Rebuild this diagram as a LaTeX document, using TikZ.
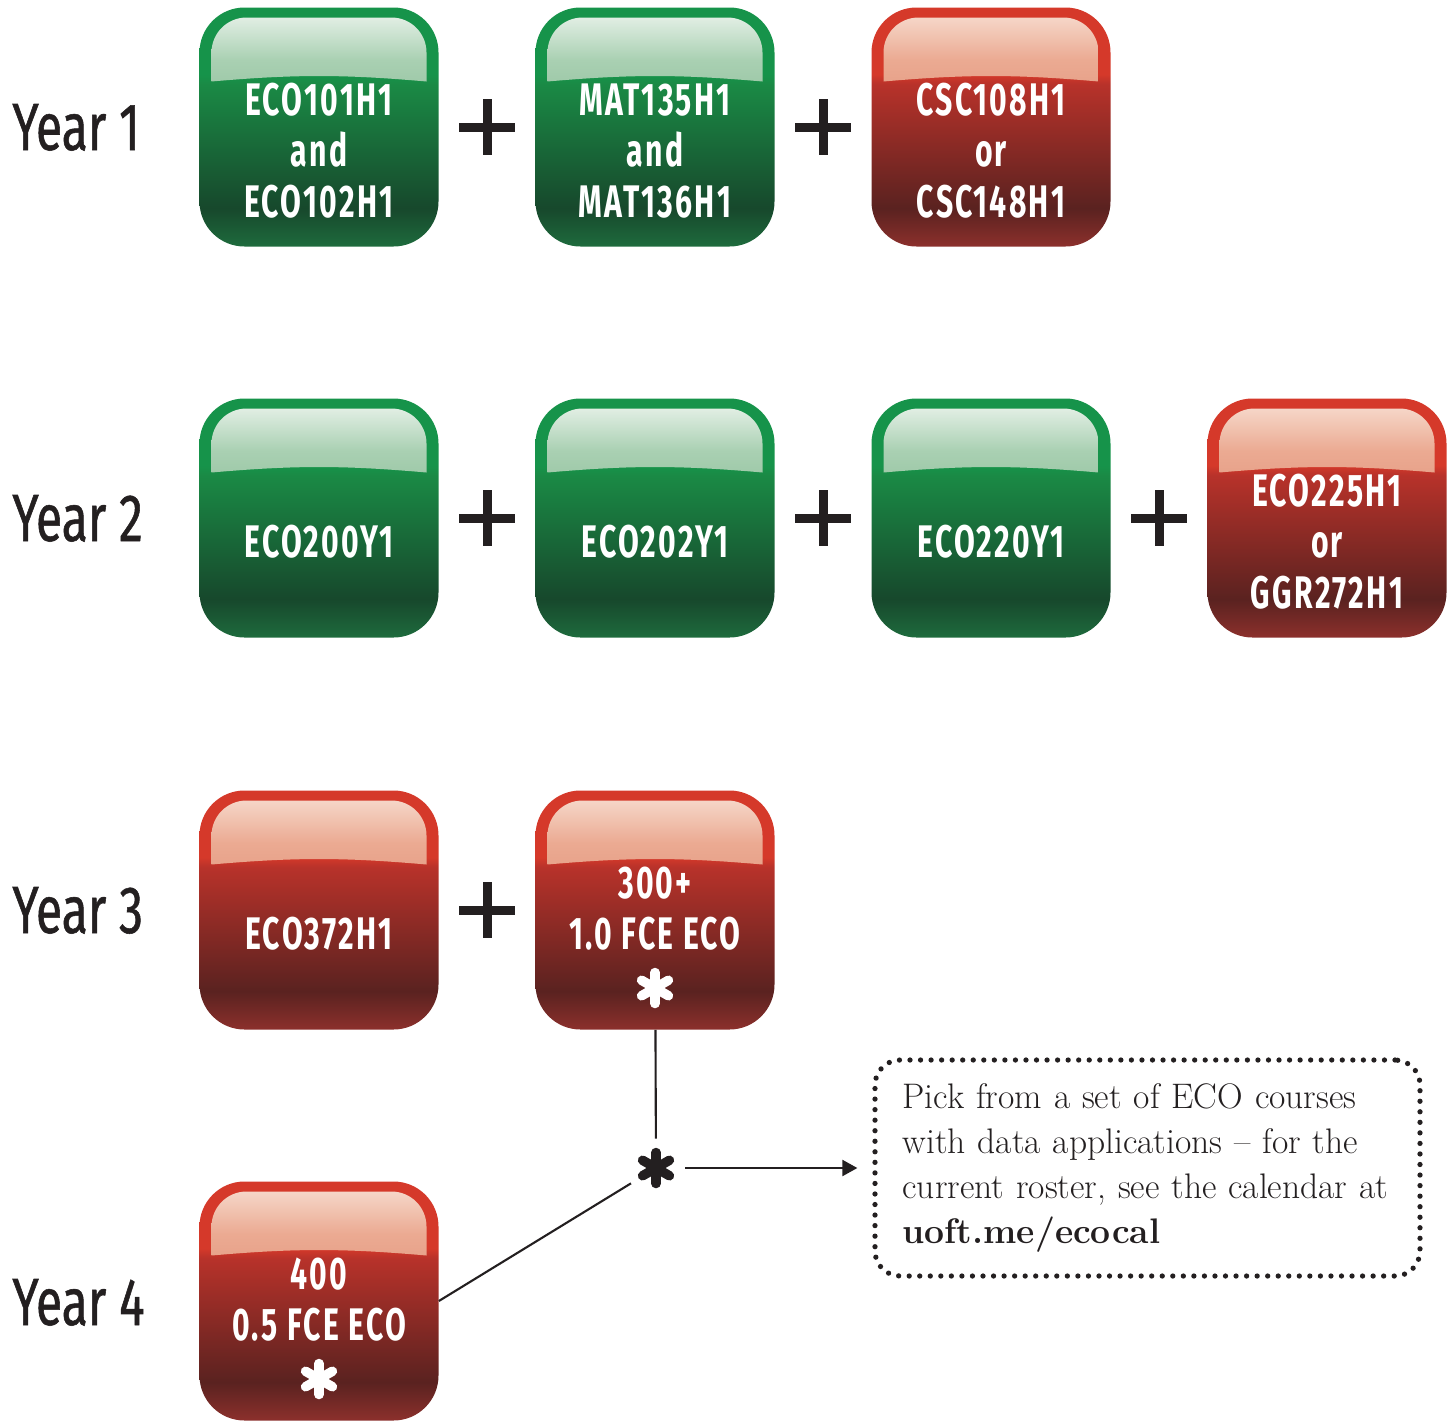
\documentclass[tikz,border=0pt]{standalone}
\usepackage{fontspec}
\usetikzlibrary{arrows.meta}
\newfontfamily\boxfont[FakeStretch=0.66,LetterSpace=5]{Fira Sans}
\newfontfamily\yearfont[FakeStretch=0.72,FakeBold=0.8]{Fira Sans}

\definecolor{grim}{HTML}{16934A}
\definecolor{gmid}{HTML}{1A8A45}
\definecolor{gdark}{HTML}{17482C}
\definecolor{gbot}{HTML}{1E6B3D}
\definecolor{gglt}{HTML}{EEF5EF}
\definecolor{ggmd}{HTML}{A9D0B2}
\definecolor{ggdk}{HTML}{579A6B}
\definecolor{rrim}{HTML}{D5392A}
\definecolor{rmid}{HTML}{B8322A}
\definecolor{rdark}{HTML}{5A2220}
\definecolor{rbot}{HTML}{8C302C}
\definecolor{rglt}{HTML}{F8E0D4}
\definecolor{rgmd}{HTML}{EBAA92}
\definecolor{rgdk}{HTML}{CF6A55}
\definecolor{ink}{HTML}{231F20}

\pgfdeclareverticalshading{greenbody}{100bp}{color(0bp)=(gbot); color(25bp)=(gbot); color(33bp)=(gdark); color(59bp)=(gmid); color(61bp)=(grim); color(75bp)=(grim); color(100bp)=(grim)}
\pgfdeclareverticalshading{redbody}{100bp}{color(0bp)=(rbot); color(25bp)=(rbot); color(33bp)=(rdark); color(59bp)=(rmid); color(61bp)=(rrim); color(75bp)=(rrim); color(100bp)=(rrim)}
\pgfdeclareverticalshading{greengloss}{100bp}{color(0bp)=(ggdk); color(25bp)=(ggdk); color(64bp)=(ggmd); color(75bp)=(gglt); color(100bp)=(gglt)}
\pgfdeclareverticalshading{redgloss}{100bp}{color(0bp)=(rgdk); color(25bp)=(rgdk); color(64bp)=(rgmd); color(75bp)=(rglt); color(100bp)=(rglt)}

\tikzset{
    course/.style={rectangle, rounded corners=0.9cm, minimum width=4.78cm, minimum height=4.78cm, inner sep=0pt},
    gloss/.style={path picture={
        \path[shading=#1, sharp corners]
            ([shift={(0.24,-1.48)}]path picture bounding box.north west) -- ++(0,0.58)
            arc[start angle=180, end angle=90, radius=0.7] -- ++(2.9,0)
            arc[start angle=90, end angle=0, radius=0.7] -- ++(0,-0.58)
            to[bend right=5] ++(-4.3,0) -- cycle;}},
    greenbox/.style={course, shading=greenbody, gloss=greengloss},
    redbox/.style={course, shading=redbody, gloss=redgloss},
    boxtext/.style={text=white, font=\boxfont\bfseries\fontsize{26}{29}\selectfont, align=center, inner sep=0pt},
    yeartext/.style={text=ink, font=\yearfont\fontsize{38}{40}\selectfont, anchor=base west, inner sep=0pt},
    plusmark/.style={minimum size=1.12cm, inner sep=0pt, path picture={
        \draw[ink, line width=0.18cm] (path picture bounding box.north) -- (path picture bounding box.south)
            (path picture bounding box.west) -- (path picture bounding box.east);}},
    astmark/.style={circle, minimum size=1.16cm, inner sep=0pt, path picture={
        \foreach \a in {90,30,150}
            \draw[#1, line width=0.19cm, line cap=round] (path picture bounding box.center) ++(\a:0.31) -- ++(\a+180:0.62);}},
    notebox/.style={draw=ink, line width=3pt, dash pattern=on 0pt off 6pt, line cap=round, rounded corners=0.5cm,
        minimum width=10.9cm, minimum height=4.32cm, text width=9.8cm, align=left, text=ink,
        font=\fontsize{20.2}{25.5}\selectfont},
    link/.style={draw=ink, line width=1.2pt}
}

\begin{document}
\begin{tikzpicture}
    \useasboundingbox (0,0) rectangle (29.06,-28.42);

    % year labels
    \node[yeartext] (y1) at (0.24,-3.0) {Year 1};
    \node[yeartext] (y2) at (0.24,-10.82) {Year 2};
    \node[yeartext] (y3) at (0.24,-18.66) {Year 3};
    \node[yeartext] (y4) at (0.24,-26.5) {Year 4};

    % year 1
    \node[greenbox] (b11) at (6.38,-2.54) {};
    \node[boxtext] (t11) at ([yshift=-0.48cm]b11.center) {ECO101H1\\and\\ECO102H1};
    \node[plusmark] (p11) at (9.74,-2.54) {};
    \node[greenbox] (b12) at (13.1,-2.54) {};
    \node[boxtext] (t12) at ([yshift=-0.48cm]b12.center) {MAT135H1\\and\\MAT136H1};
    \node[plusmark] (p12) at (16.46,-2.54) {};
    \node[redbox] (b13) at (19.82,-2.54) {};
    \node[boxtext] (t13) at ([yshift=-0.48cm]b13.center) {CSC108H1\\or\\CSC148H1};

    % year 2
    \node[greenbox] (b21) at (6.38,-10.36) {};
    \node[boxtext] (t21) at ([yshift=-0.48cm]b21.center) {ECO200Y1};
    \node[plusmark] (p21) at (9.74,-10.36) {};
    \node[greenbox] (b22) at (13.1,-10.36) {};
    \node[boxtext] (t22) at ([yshift=-0.48cm]b22.center) {ECO202Y1};
    \node[plusmark] (p22) at (16.46,-10.36) {};
    \node[greenbox] (b23) at (19.82,-10.36) {};
    \node[boxtext] (t23) at ([yshift=-0.48cm]b23.center) {ECO220Y1};
    \node[plusmark] (p23) at (23.18,-10.36) {};
    \node[redbox] (b24) at (26.54,-10.36) {};
    \node[boxtext] (t24) at ([yshift=-0.48cm]b24.center) {ECO225H1\\or\\GGR272H1};

    % year 3
    \node[redbox] (b31) at (6.38,-18.2) {};
    \node[boxtext] (t31) at ([yshift=-0.48cm]b31.center) {ECO372H1};
    \node[plusmark] (p31) at (9.74,-18.2) {};
    \node[redbox] (b32) at (13.1,-18.2) {};
    \node[boxtext] (t32) at ([yshift=-0.48cm]b32.center) {300+\\1.0 FCE ECO\\\phantom{0}};
    \node[astmark=white] (s32) at ([yshift=-1.56cm]b32.center) {};

    % year 4
    \node[redbox] (b41) at (6.38,-26.02) {};
    \node[boxtext] (t41) at ([yshift=-0.48cm]b41.center) {400\\0.5 FCE ECO\\\phantom{0}};
    \node[astmark=white] (s41) at ([yshift=-1.56cm]b41.center) {};

    % note
    \node[astmark=ink] (star) at (13.12,-23.36) {};
    \node[notebox] (note) at (22.95,-23.36) {Pick from a set of ECO courses\\with data applications -- for the\\current roster, see the calendar at\\\textbf{uoft.me/ecocal}};

    \draw[link] (b32) -- (star);
    \draw[link] (star) -- (b41.east);
    \draw[link, -{Triangle[length=0.3cm, width=0.32cm]}, shorten >=0.3cm] (star) -- (note);
\end{tikzpicture}
\end{document}
